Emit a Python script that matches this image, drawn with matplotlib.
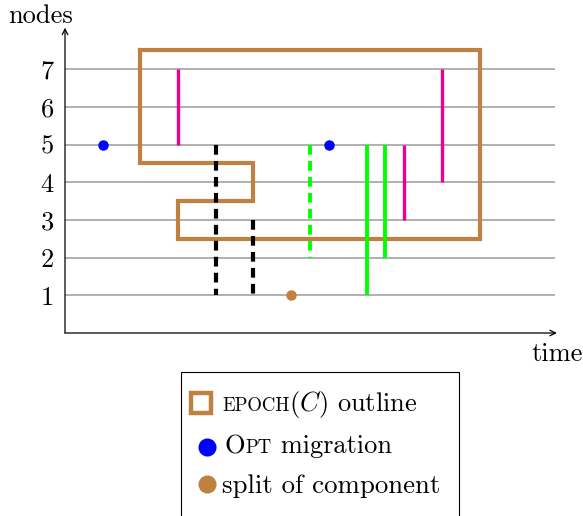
import matplotlib.pyplot as plt
from matplotlib.patches import Rectangle
from matplotlib.lines import Line2D
from matplotlib.transforms import IdentityTransform

plt.rcParams['font.family'] = 'cmr10'
plt.rcParams['mathtext.fontset'] = 'cm'
plt.rcParams['lines.scale_dashes'] = False

# data
NODES = [1, 2, 3, 4, 5, 6, 7]
EPOCH_X = [2, 11, 11, 3, 3, 5, 5, 2, 2]
EPOCH_Y = [7.5, 7.5, 2.5, 2.5, 3.5, 3.5, 4.5, 4.5, 7.5]
PINK_X = [3, 9, 10]
PINK_LO = [5, 3, 4]
PINK_HI = [7, 5, 7]
GREEN_X = [8, 8.5]
GREEN_LO = [1, 2]
GREEN_HI = [5, 5]
GREEN_DASH_X = [6.5]
GREEN_DASH_LO = [2]
GREEN_DASH_HI = [5]
BLACK_DASH_X = [4, 5]
BLACK_DASH_LO = [1, 1]
BLACK_DASH_HI = [5, 3]
OPT_X = [1, 7]
OPT_Y = [5, 5]
SPLIT_X = [6]
SPLIT_Y = [1]

BROWN = '#BF8040'
PINK = '#EC008C'
GREEN = '#00FF00'
BLUE = '#0000FF'

W, H = 583, 516
fig = plt.figure(figsize=(W / 100, H / 100), dpi=100)
ax = fig.add_axes([65 / W, 1 - 333 / H, 490 / W, 303 / H])
ax.set_xlim(0, 13)
ax.set_ylim(0, 8.04)
for sp in ax.spines.values():
    sp.set_visible(False)

ax.hlines(NODES, 0, 13, color='#9a9a9a', lw=1.1, zorder=1)
ax.plot(EPOCH_X, EPOCH_Y, color=BROWN, lw=3, zorder=2, solid_joinstyle='miter')

ax.vlines(PINK_X, PINK_LO, PINK_HI, color=PINK, lw=2.4, zorder=3)
ax.vlines(GREEN_X, GREEN_LO, GREEN_HI, color=GREEN, lw=2.8, zorder=3)
for x, lo, hi in zip(GREEN_DASH_X, GREEN_DASH_LO, GREEN_DASH_HI):
    ax.plot([x, x], [hi, lo], color=GREEN, lw=2.8, dashes=(7, 4.5), zorder=3)
for x, lo, hi in zip(BLACK_DASH_X, BLACK_DASH_LO, BLACK_DASH_HI):
    ax.plot([x, x], [hi, lo], color='black', lw=3, dashes=(7, 4.5), zorder=3)

ax.plot(OPT_X, OPT_Y, 'o', color=BLUE, ms=6.5, zorder=4)
ax.plot(SPLIT_X, SPLIT_Y, 'o', color=BROWN, ms=6.5, zorder=4)

ax.set_yticks(NODES)
ax.set_yticklabels([str(n) for n in NODES], fontsize=19)
ax.set_xticks([])
ax.tick_params(axis='y', length=0, pad=8)

arrow = dict(arrowstyle='->', lw=0.9, color='black', shrinkA=0, shrinkB=0)
ax.annotate('', xy=(13.05, 0), xytext=(0, 0), arrowprops=arrow, annotation_clip=False)
ax.annotate('', xy=(0, 8.1), xytext=(0, 0), arrowprops=arrow, annotation_clip=False)

fig.text(8 / W, 1 - 23 / H, 'nodes', fontsize=19, va='baseline')
fig.text(531 / W, 1 - 361 / H, 'time', fontsize=19, va='baseline')

# legend, drawn by hand for the small caps
fig.patches.append(Rectangle((181 / W, -0.02), 278 / W, 1 - 372 / H + 0.02,
                             transform=fig.transFigure, fill=False,
                             edgecolor='black', lw=0.8))
fig.add_artist(Line2D([201 / W], [1 - 403 / H], marker='s', ms=14.5, mfc='white',
                      mec=BROWN, mew=3.2, transform=fig.transFigure))
fig.add_artist(Line2D([207 / W], [1 - 447 / H], marker='o', ms=12, color=BLUE,
                      transform=fig.transFigure))
fig.add_artist(Line2D([207 / W], [1 - 484 / H], marker='o', ms=12, color=BROWN,
                      transform=fig.transFigure))

renderer = fig.canvas.get_renderer()


def put_parts(x, y, parts):
    for s, size in parts:
        t = fig.text(x, H - y, s, fontsize=size, va='baseline', ha='left',
                     transform=IdentityTransform())
        x += t.get_window_extent(renderer).width


put_parts(222, 411, [('EPOCH', 13.5), (r'$(C)$ outline', 19)])
put_parts(225, 453, [('O', 19), ('PT', 13.5), (' migration', 19)])
put_parts(222, 493, [('split of component', 19.3)])

fig.savefig('out.png', dpi=100)
